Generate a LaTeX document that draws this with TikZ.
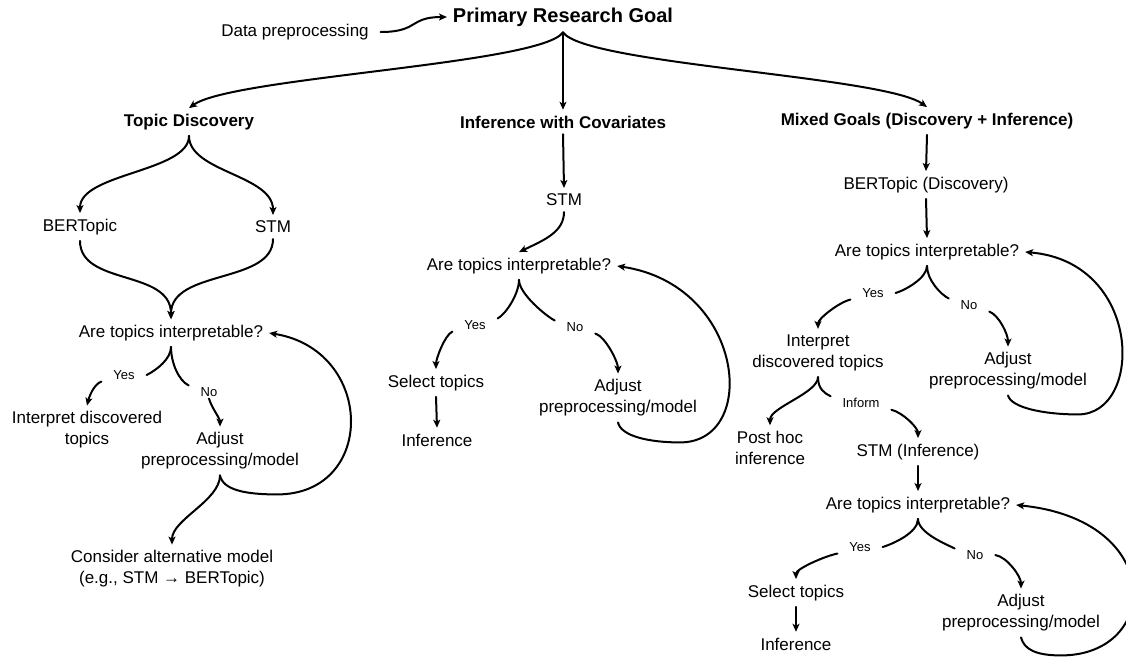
\documentclass[tikz,border=0pt]{standalone}
\usepackage{fontspec}
\setmainfont{Liberation Sans}
\usepackage{tikz}
\usetikzlibrary{arrows.meta}
\tikzset{t/.style={font=\fontsize{17}{21}\selectfont,align=center,inner sep=2pt,outer sep=4pt}}
\tikzset{h/.style={t,font=\bfseries\fontsize{17}{21}\selectfont}}
\tikzset{g/.style={t,font=\bfseries\fontsize{20}{24}\selectfont}}
\tikzset{yn/.style={font=\fontsize{13}{15}\selectfont,inner xsep=12pt,inner ysep=2pt,outer sep=0pt}}
\tikzset{ar/.style={line width=2pt,-{Stealth[length=8pt,width=7pt,inset=2pt]}}}
\tikzset{fk/.style={line width=2pt}}

\begin{document}
\begin{tikzpicture}[x=1pt,y=-1pt,line join=round,line cap=round]
\path[use as bounding box,fill=white] (0,0) rectangle (1126,657);
\node[t] (data) at (295,32) {Data preprocessing};
\node[g] (goal) at (563,17) {Primary Research Goal};
\node[h] (td) at (189,122) {Topic Discovery};
\node[h] (inf) at (563,122) {Inference with Covariates};
\node[h] (mix) at (927,121) {Mixed Goals (Discovery + Inference)};
% left column
\node[t] (bert1) at (80,227) {BERTopic};
\node[t] (stm1) at (273,227) {STM};
\node[t] (q1) at (171,333) {Are topics interpretable?};
\node[yn] (yes1) at (124,375) {Yes};
\node[yn] (no1) at (209,392) {No};
\node[t] (int1) at (87,430) {Interpret discovered\\topics};
\node[t] (adj1) at (220,451) {Adjust\\preprocessing/model};
\node[t] (alt1) at (172,569) {Consider alternative model\\(e.g., STM → BERTopic)};
% middle column
\node[t] (stm2) at (564,200) {STM};
\node[t] (q2) at (519,266) {Are topics interpretable?};
\node[yn] (yes2) at (475,325) {Yes};
\node[yn] (no2) at (575,327) {No};
\node[t] (sel2) at (436,383) {Select topics};
\node[t] (infr2) at (437,440) {Inference};
\node[t] (adj2) at (618,398) {Adjust\\preprocessing/model};
% right column
\node[t] (bert3) at (926,185) {BERTopic (Discovery)};
\node[t] (q3) at (927,252) {Are topics interpretable?};
\node[yn] (yes3) at (873,293) {Yes};
\node[yn] (no3) at (969,305) {No};
\node[t] (int3) at (818,353) {Interpret\\discovered topics};
\node[t] (adj3) at (1008,371) {Adjust\\preprocessing/model};
\node[yn] (inform) at (861,403) {Inform};
\node[t] (post3) at (770,448) {Post hoc\\inference};
\node[t] (stm3) at (918,452) {STM (Inference)};
\node[t] (q4) at (918,505) {Are topics interpretable?};
\node[yn] (yes4) at (860,547) {Yes};
\node[yn] (no4) at (975,555) {No};
\node[t] (sel4) at (796,593) {Select topics};
\node[t] (infr4) at (796,644) {Inference};
\node[t] (adj4) at (1021,613) {Adjust\\preprocessing/model};

\draw[ar] ([xshift=6pt]data.east) .. controls +(38,0) and +(-38,0) .. (goal.west);
\draw[ar] (goal.south) .. controls +(-22,32) and +(43,-31) .. (td.north);
\draw[ar] (goal.south) -- (inf.north);
\draw[ar] (goal.south) .. controls +(22,32) and +(-43,-31) .. (mix.north);
% left
\draw[ar] (td.south) .. controls +(0,36) and +(0,-40) .. (bert1.north);
\draw[ar] (td.south) .. controls +(0,36) and +(0,-40) .. (stm1.north);
\draw[ar] (bert1.south) .. controls +(0,45) and +(0,-50) .. (q1.north);
\draw[ar] (stm1.south) .. controls +(0,45) and +(0,-50) .. (q1.north);
\draw[fk] (q1.south) .. controls +(0,12) and +(10,-5) .. (yes1.east);
\draw[fk] (q1.south) .. controls +(0,16) and +(-10,-5) .. (no1.north west);
\draw[ar] (yes1.south west) .. controls +(-8,3) and +(2,-8) .. (int1.north);
\draw[ar] (no1.south) .. controls +(2,8) and +(0,-8) .. (adj1.north);
\draw[ar] (adj1.south) .. controls +(3,15) and +(-30,0) .. ++(57,19) .. controls +(100,0) and +(106,17) .. (q1.east);
\draw[ar] (adj1.south) .. controls +(0,25) and +(0,-25) .. (alt1.north);
% middle
\draw[ar] (inf.south) -- (stm2.north);
\draw[ar] (stm2.south) .. controls +(0,20) and +(25,-12) .. (q2.north);
\draw[fk] (q2.south) .. controls +(0,14) and +(8,-4) .. (yes2.north east);
\draw[fk] (q2.south) .. controls +(0,14) and +(-8,-4) .. (no2.north west);
\draw[ar] (yes2.south west) .. controls +(-8,4) and +(0,-10) .. (sel2.north);
\draw[ar] (no2.south east) .. controls +(10,3) and +(0,-12) .. (adj2.north);
\draw[ar] (sel2.south) -- (infr2.north);
\draw[ar] (adj2.south) .. controls +(3,14) and +(-30,0) .. ++(62,20) .. controls +(80,0) and +(128,19) .. (q2.east);
% right
\draw[ar] (mix.south) -- (bert3.north);
\draw[ar] (bert3.south) -- (q3.north);
\draw[fk] (q3.south) .. controls +(0,12) and +(10,-3) .. (yes3.east);
\draw[fk] (q3.south) .. controls +(0,14) and +(-8,-4) .. (no3.north west);
\draw[ar] (yes3.south west) .. controls +(-12,3) and +(0,-10) .. (int3.north);
\draw[ar] (no3.south east) .. controls +(10,4) and +(0,-12) .. (adj3.north);
\draw[ar] (adj3.south) .. controls +(3,12) and +(-35,0) .. ++(70,19) .. controls +(66,0) and +(118,10) .. (q3.east);
\draw[ar] (int3.south) .. controls +(0,16) and +(0,-18) .. (post3.north);
\draw[fk] (int3.south) .. controls +(0,12) and +(-6,-3) .. (inform.north west);
\draw[ar] (inform.south east) .. controls +(12,3) and +(0,-10) .. (stm3.north);
\draw[ar] (stm3.south) -- (q4.north);
\draw[fk] (q4.south) .. controls +(0,14) and +(10,-3) .. (yes4.east);
\draw[fk] (q4.south) .. controls +(0,14) and +(-8,-4) .. (no4.north west);
\draw[ar] (yes4.south west) .. controls +(-14,3) and +(0,-10) .. (sel4.north);
\draw[ar] (no4.east) .. controls +(12,2) and +(0,-12) .. (adj4.north);
\draw[ar] (sel4.south) -- (infr4.north);
\draw[ar] (adj4.south) .. controls +(3,12) and +(-25,0) .. ++(40,18) .. controls +(100,0) and +(150,15) .. (q4.east);
\end{tikzpicture}
\end{document}
